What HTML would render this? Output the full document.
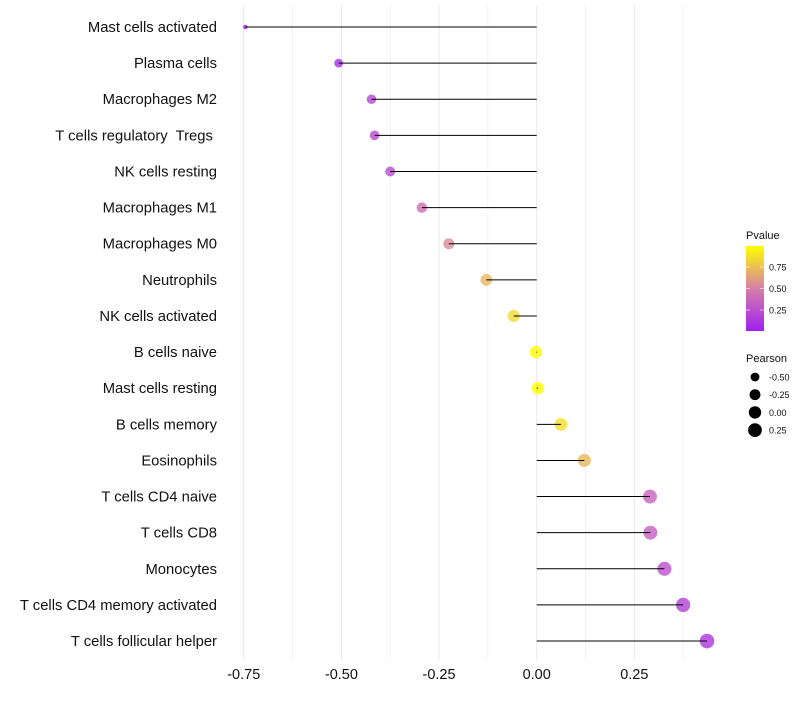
<!DOCTYPE html>
<html><head><meta charset="utf-8"><style>
body{margin:0;background:#fff;font-family:"Liberation Sans",sans-serif}
</style></head><body>
<svg id="c" width="800" height="700" xmlns="http://www.w3.org/2000/svg">
<defs><linearGradient id="pg" x1="0" y1="1" x2="0" y2="0">
<stop offset="0" stop-color="#A020F0"/><stop offset="0.5" stop-color="#D67FA8"/><stop offset="1" stop-color="#FFFF00"/></linearGradient></defs>
</svg>
<script>
const categories=["Mast cells activated","Plasma cells","Macrophages M2","T cells regulatory  Tregs ","NK cells resting","Macrophages M1","Macrophages M0","Neutrophils","NK cells activated","B cells naive","Mast cells resting","B cells memory","Eosinophils","T cells CD4 naive","T cells CD8","Monocytes","T cells CD4 memory activated","T cells follicular helper"];
const pearson=[-0.746,-0.507,-0.423,-0.415,-0.375,-0.294,-0.225,-0.129,-0.059,-0.002,0.003,0.062,0.122,0.29,0.291,0.327,0.375,0.436];
const pvalue=[0.0,0.08,0.2,0.2,0.22,0.42,0.55,0.72,0.85,1.0,1.0,0.88,0.72,0.35,0.33,0.25,0.18,0.12];
const xTicks=[-0.75,-0.5,-0.25,0,0.25];
const xTickLabels=["-0.75","-0.50","-0.25","0.00","0.25"];
const pTicks=[0.25,0.5,0.75];
const pTickLabels=["0.25","0.50","0.75"];
const sizeLegend=[-0.5,-0.25,0,0.25];
const sizeLegendLabels=["-0.50","-0.25","0.00","0.25"];
const svg=document.getElementById('c');
const NS="http://www.w3.org/2000/svg";
const X=v=>536.7+v*390.6;
const Y=i=>27+i*36.12;
const R=v=>2+5.3*Math.sqrt(Math.max(0,(v+0.75)/1.19));
function lerp(a,b,t){return a.map((x,i)=>Math.round(x+(b[i]-x)*t));}
function col(p){const c0=[160,32,240],c1=[214,127,168],c2=[255,255,0];const c=p<0.5?lerp(c0,c1,p/0.5):lerp(c1,c2,(p-0.5)/0.5);return `rgb(${c})`;}
function el(t,a,txt){const e=document.createElementNS(NS,t);for(const k in a)e.setAttribute(k,a[k]);if(txt!==undefined)e.textContent=txt;svg.appendChild(e);return e;}
for(let v=-0.75;v<=0.376;v+=0.125){const g=el('line',{x1:X(v),x2:X(v),y1:5,y2:660,stroke:'#ebebeb','stroke-width':v%0.25===0?1.1:0.6});

}
xTicks.forEach((t,i)=>{const e=el('text',{x:X(t),y:679,'text-anchor':'middle','font-size':14.5,fill:'#111'},xTickLabels[i]);

});
categories.forEach((c,i)=>{
const lb=el('text',{x:217,y:Y(i)+5,'text-anchor':'end','font-size':14.8,fill:'#111',style:'white-space:pre'},c);


const d=el('circle',{cx:X(pearson[i]),cy:Y(i),r:R(pearson[i]),fill:col(pvalue[i]),'fill-opacity':0.8});


const ln=el('line',{x1:X(0),x2:X(pearson[i]),y1:Y(i),y2:Y(i),stroke:'#000','stroke-width':1});


});
const pt=el('text',{x:746,y:239,'font-size':11,fill:'#111'},'Pvalue');


const bar=el('rect',{x:746,y:246,width:18,height:85,fill:'url(#pg)'});


pTicks.forEach((t,i)=>{const y=331.5-t*86;
el('line',{x1:746,x2:750,y1:y,y2:y,stroke:'#fff','stroke-opacity':0.6});
el('line',{x1:760,x2:764,y1:y,y2:y,stroke:'#fff','stroke-opacity':0.6});
const e=el('text',{x:769,y:y+3.5,'font-size':9,fill:'#111'},pTickLabels[i]);

});
const st=el('text',{x:746,y:362,'font-size':11,fill:'#111'},'Pearson');


sizeLegend.forEach((v,i)=>{const y=377+i*17.7;
const d=el('circle',{cx:755,cy:y,r:R(v),fill:'#000'});


const e=el('text',{x:769,y:y+3.5,'font-size':9,fill:'#111'},sizeLegendLabels[i]);

});
</script>
</body></html>
